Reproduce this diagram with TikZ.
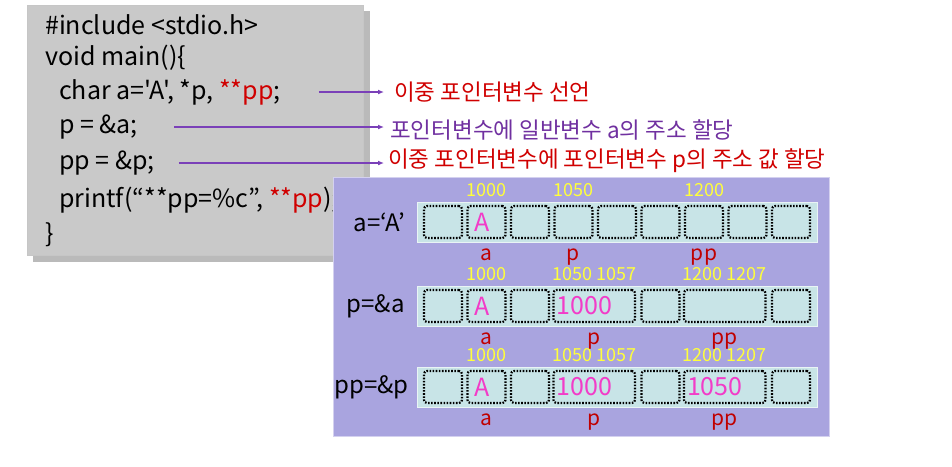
\documentclass[tikz,border=0pt]{standalone}
\usepackage{fontspec}
\setmainfont{Noto Sans CJK KR}
\newfontfamily\codefont{Noto Sans CJK KR}[Ligatures=TeXOff]
\usetikzlibrary{arrows.meta,positioning}
\definecolor{codegray}{HTML}{C9C9C9}
\definecolor{memviolet}{HTML}{A9A4DF}
\definecolor{cellcyan}{HTML}{C8E4E7}
\definecolor{addryellow}{HTML}{FFFF3A}
\definecolor{valpink}{HTML}{F23CC8}
\definecolor{varred}{HTML}{C00000}
\definecolor{notered}{HTML}{D00000}
\definecolor{notepurple}{HTML}{7030A0}
\definecolor{arrowpurple}{HTML}{7A40B8}

\tikzset{
 codeline/.style={anchor=west,inner sep=0pt,font=\codefont\fontsize{25}{25}\selectfont},
 note/.style={anchor=west,inner sep=0pt,font=\fontsize{22.5}{22.5}\selectfont},
 notearrow/.style={draw=arrowpurple,line width=1.6pt,-{Latex[length=6pt,width=5pt]}},
 membar/.style={fill=cellcyan,draw=white!60!cellcyan,minimum width=400,minimum height=40,inner sep=0pt},
 memcell/.style={draw=black,line width=2.2pt,dash pattern=on 1.6pt off 1.5pt,rounded corners=3pt,minimum height=32,inner sep=0pt},
 addr/.style={text=addryellow,inner sep=0pt,font=\fontsize{18}{18}\selectfont},
 val/.style={text=valpink,inner sep=0pt,font=\fontsize{25}{25}\selectfont},
 varname/.style={text=varred,inner sep=0pt,text height=1.6ex,text depth=.5ex,font=\fontsize{21}{21}\selectfont},
 rowlabel/.style={inner sep=0pt,font=\fontsize{24}{24}\selectfont}
}

\begin{document}
\begin{tikzpicture}[x=1pt,y=-1pt,>=Latex]
 \useasboundingbox (0,0) rectangle (952,466);
 \fill[white] (0,0) rectangle (952,466);
 % code panel
 \fill[black!45,opacity=.6] (33,11) rectangle (370,262);
 \fill[codegray,draw=gray!45] (27,5) rectangle (363,255);
 \node[codeline] (code1) at (45,25) {\#include <stdio.h>};
 \node[codeline] (code2) at (45,58) {void main()\{};
 \node[codeline] (code3) at (59,92) {char a='A', *p, \textcolor{notered}{**pp};};
 \node[codeline] (code4) at (59,127) {p = \&a;};
 \node[codeline] (code5) at (59,163) {pp = \&p;};
 \node[codeline] (code6) at (59,200) {printf(“**pp=\%c”, \textcolor{notered}{**pp});};
 \node[codeline] (code7) at (45,235) {\}};

 % notes
 \node[note,text=notered] (note1) at (394,92) {이중 포인터변수 선언};
 \node[note,text=notepurple] (note2) at (390,130) {포인터변수에 일반변수 a의 주소 할당};
 \node[note,text=notered] (note3) at (388,161) {이중 포인터변수에 포인터변수 p의 주소 값 할당};
 \draw[notearrow,shorten <=38pt,shorten >=10pt] (code3.east) -- (code3.east -| note1.west);
 \draw[notearrow,shorten <=36pt,shorten >=6pt] (code4.east) -- (code4.east -| note2.west);
 \draw[notearrow,shorten <=24pt,shorten >=4pt] (code5.east) -- (code5.east -| note3.west);

 % memory panel
 \fill[memviolet,draw=white!50!memviolet] (333,177) rectangle (829,436);
 \foreach \r/\y in {1/222,2/306,3/387}
  \node[membar] (bar\r) at (617,\y) {};
 \foreach \i in {1,...,9}
  \node[memcell,minimum width=38] (c1-\i) at ({443+43.5*(\i-1)},222) {};
 \foreach \r/\y in {2/306,3/387} {
  \foreach \i in {1,2,3,6,9}
   \node[memcell,minimum width=38] (c\r-\i) at ({443+43.5*(\i-1)},\y) {};
  \node[memcell,minimum width=81.5] (c\r-4) at (594.25,\y) {};
  \node[memcell,minimum width=81.5] (c\r-7) at (724.75,\y) {};
 }

 % row labels
 \node[rowlabel,left=11pt of bar1] (lab1) {a=‘A’};
 \node[rowlabel,left=12pt of bar2] (lab2) {p=\&a};
 \node[rowlabel,left=8pt of bar3] (lab3) {pp=\&p};

 % addresses
 \node[addr,above=8pt of c1-2] (ad1a) {1000};
 \node[addr,above=8pt of c1-4] (ad1p) {1050};
 \node[addr,above=8pt of c1-7] (ad1pp) {1200};
 \foreach \r in {2,3} {
  \node[addr,above=8pt of c\r-2] (ad\r a) {1000};
  \node[addr,above=8pt of c\r-4] (ad\r p) {1050 1057};
  \node[addr,above=8pt of c\r-7] (ad\r pp) {1200 1207};
 }

 % values
 \node[val] (v1a) at ([xshift=-4pt]c1-2) {A};
 \node[val] (v2a) at ([xshift=-4pt]c2-2) {A};
 \node[val,anchor=west] (v2p) at ([xshift=4pt]c2-4.west) {1000};
 \node[val] (v3a) at ([xshift=-4pt]c3-2) {A};
 \node[val,anchor=west] (v3p) at ([xshift=4pt]c3-4.west) {1000};
 \node[val,anchor=west] (v3pp) at ([xshift=4pt]c3-7.west) {1050};

 % variable names
 \foreach \r in {1,2,3} {
  \node[varname] (n\r a) at ([yshift=-18pt]c\r-2.south) {a};
  \node[varname] (n\r p) at ([yshift=-18pt]c\r-4.south) {p};
  \node[varname] (n\r pp) at ([yshift=-18pt]c\r-7.south) {pp};
 }
\end{tikzpicture}
\end{document}
